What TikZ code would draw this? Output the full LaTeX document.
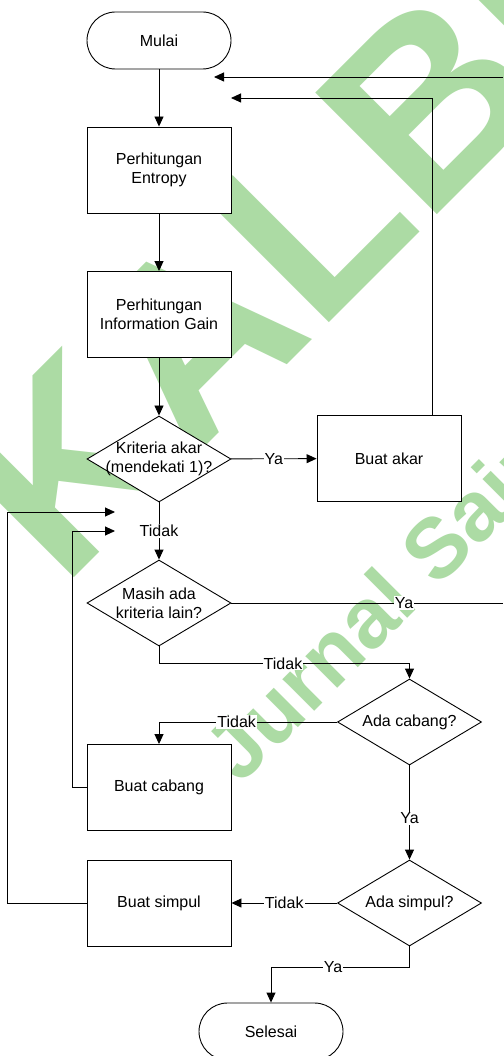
\documentclass[tikz,border=0pt]{standalone}
\usepackage{fontspec}
\setmainfont{Liberation Sans}
\usetikzlibrary{arrows.meta,shapes.geometric}
\definecolor{wm}{RGB}{172,219,164}
\begin{document}
\begin{tikzpicture}[x=1pt,y=-1pt,
  every node/.style={font=\fontsize{16}{19}\selectfont},
  ln/.style={line width=0.9pt, draw=black},
  arr/.style={ln, -{Triangle[length=10pt,width=9pt]}},
  box/.style={ln, fill=white, rectangle, minimum width=144pt, minimum height=86pt, align=center, inner sep=2pt},
  term/.style={ln, fill=white, rectangle, rounded corners=28.5pt, minimum width=144pt, minimum height=57pt},
  dec/.style={ln, fill=white, diamond, minimum width=144pt, minimum height=86pt, inner sep=0pt},
  lab/.style={fill=white, inner sep=1pt},
  wmtext/.style={text=wm, inner sep=0pt, rotate=45, anchor=base west}]
\useasboundingbox (0,0) rectangle (503,1056);
\fill[white] (0,0) rectangle (503,1056);
% watermark
\begin{scope}
\clip (0,0) rectangle (503,1056);
\node[wmtext, font=\fontsize{250}{250}\selectfont\bfseries] (wmA) at (62,590) {KALBE};
\node[wmtext, font=\fontsize{85}{85}\selectfont\bfseries] (wmB) at (240,786) {Jurnal Sains};
\end{scope}
% nodes
\node[term] (mulai) at (159,40.5) {Mulai};
\node[box] (entropy) at (159,170) {Perhitungan\\Entropy};
\node[box] (infogain) at (159,314.5) {Perhitungan\\Information Gain};
\node[dec, label={[align=center]center:Kriteria akar\\(mendekati 1)?}] (krit) at (159,459) {};
\node[box] (akar) at (389,458.5) {Buat akar};
\node[dec, label={[align=center]center:Masih ada\\kriteria lain?}] (masih) at (159,603) {};
\node[dec, label={center:Ada cabang?}] (cabangQ) at (409.5,722) {};
\node[box] (cabang) at (159,787.5) {Buat cabang};
\node[dec, label={center:Ada simpul?}] (simpulQ) at (409.5,903) {};
\node[box] (simpul) at (159,903) {Buat simpul};
\node[term] (selesai) at (271,1031.5) {Selesai};
% free ends
\coordinate (ret1) at (231,98);
\coordinate (akarup) at (432,98);
\coordinate (edgeA) at (503,77);
\coordinate (ret2) at (214,77);
\coordinate (edgeB) at (503,603);
\coordinate (loopA) at (115,512);
\coordinate (loopB) at (115,531);
% connectors
\draw[arr] (mulai) -- (entropy);
\draw[arr] (entropy) -- (infogain);
\draw[arr] (infogain) -- (krit);
\draw[arr] (krit) -- node[lab]{Ya} (akar);
\draw[arr] (akar.north -| akarup) -- (akarup) -- (ret1);
\draw[arr] (edgeA) -- (ret2);
\draw[arr] (krit) -- node[lab]{Tidak} (masih);
\draw[ln] (masih.east) -- node[lab, pos=0.636]{Ya} (edgeB);
\draw[arr] (masih.south) -- ++(0,17) -| node[lab, pos=0.2475]{Tidak} (cabangQ.north);
\draw[arr] (cabangQ.west) -| node[lab, pos=0.282]{Tidak} (cabang.north);
\draw[arr] (cabangQ) -- node[lab, pos=0.56]{Ya} (simpulQ);
\draw[arr] (simpulQ) -- node[lab]{Tidak} (simpul);
\draw[arr] (simpulQ.south) -- ++(0,21) -| node[lab, pos=0.276]{Ya} (selesai.north);
\draw[arr] (cabang.west) -- ++(-14,0) |- (loopB);
\draw[arr] (simpul.west) -- ++(-79,0) |- (loopA);
\end{tikzpicture}
\end{document}
